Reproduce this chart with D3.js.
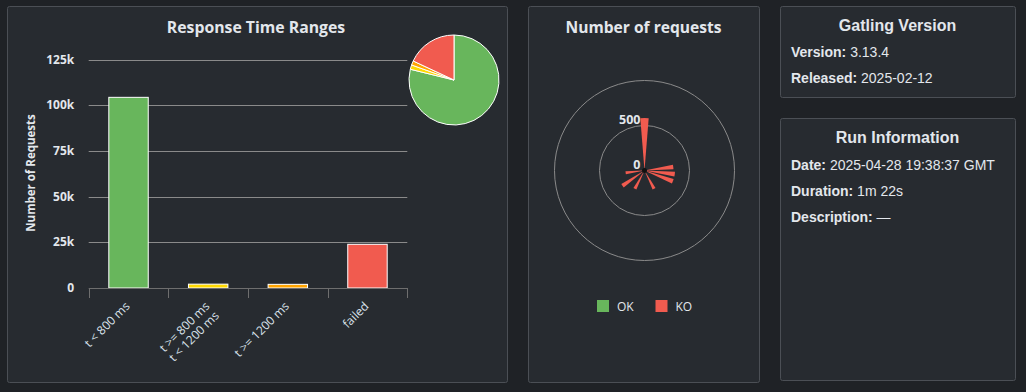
<!DOCTYPE html>
<html>
<head>
<meta charset="utf-8">
<script src="https://cdn.jsdelivr.net/npm/d3@7"></script>
<style>
html, body { margin: 0; padding: 0; background: #1f2226; }
svg { display: block; }
</style>
</head>
<body>
<svg id="chart" width="1026" height="392"></svg>
<script>
// ---------------- DATA ----------------
const rangeCategories = ["t < 800 ms", "t >= 800 ms\nt < 1200 ms", "t >= 1200 ms", "failed"];
const rangeCounts = [104300, 2100, 2000, 23900];
const yTickValues = [0, 25000, 50000, 75000, 100000, 125000];
const yTickLabels = ["0", "25k", "50k", "75k", "100k", "125k"];

const requestNames = d3.range(1, 27).map(i => "request_" + String(i).padStart(2, "0"));
const okCounts = [0,0,0,0,0,0,0,0,0,0,0,0,0,0,0,0,0,0,0,0,0,0,0,0,0,0];
const koCounts = [583,0,0,0,0,0,322,339,337,0,0,229,0,0,0,230,0,298,0,211,0,0,0,0,0,0];
const radialTickValues = [0, 500];
const radialGridValues = [500, 1000];
const legendLabels = ["OK", "KO"];

const versionRows = [["Version:", "3.13.4"], ["Released:", "2025-02-12"]];
const runRows = [["Date:", "2025-04-28 19:38:37 GMT"], ["Duration:", "1m 22s"], ["Description:", "\u2014"]];

// ---------------- STYLE ----------------
const C = {
  panel: "#272b30", border: "#4b4f55", text: "#e3e7ec", grid: "#8a8a8a", axis: "#6e6e6e",
  green: "#68b65c", yellow: "#ffd900", orange: "#ffa400", red: "#f15b4f"
};
const rangeColors = [C.green, C.yellow, C.orange, C.red];
const HC = "'Open Sans', 'Noto Sans', sans-serif";
const AR = "'Liberation Sans', Arial, sans-serif";

const svg = d3.select("#chart");

function panel(x, y, w, h) {
  svg.append("rect").attr("x", x + 0.5).attr("y", y + 0.5).attr("width", w).attr("height", h)
    .attr("rx", 2).attr("fill", C.panel).attr("stroke", C.border);
}
panel(7, 6, 500, 376);
panel(528, 6, 231, 376);
panel(780, 6, 235, 91);
panel(780, 118, 235, 262);

// ---------------- BAR CHART ----------------
const plot = { left: 88.7, right: 407.3, top: 59.5, bottom: 288 };
const x = d3.scaleBand().domain(rangeCategories).range([plot.left, plot.right]).padding(0);
const y = d3.scaleLinear().domain([0, 125000]).range([plot.bottom, plot.top]);

svg.append("text").attr("x", 256).attr("y", 33).attr("text-anchor", "middle")
  .attr("font-family", HC).attr("font-weight", "bold").attr("font-size", 15.8).attr("fill", C.text)
  .text("Response Time Ranges");

const g = svg.append("g");
// grid
g.selectAll("line.grid").data(yTickValues.filter(v => v > 0)).join("line")
  .attr("x1", plot.left).attr("x2", plot.right)
  .attr("y1", d => Math.round(y(d)) + 0.5).attr("y2", d => Math.round(y(d)) + 0.5)
  .attr("stroke", C.grid).attr("stroke-width", 1);
// y labels
g.selectAll("text.ytick").data(yTickValues).join("text")
  .attr("x", plot.left - 14.5).attr("y", d => y(d) + 4).attr("text-anchor", "end")
  .attr("font-family", HC).attr("font-weight", "bold").attr("font-size", 12).attr("fill", C.text)
  .text((d, i) => yTickLabels[i]);
// y title
svg.append("text").attr("transform", "translate(35,173) rotate(-90)").attr("text-anchor", "middle")
  .attr("font-family", HC).attr("font-weight", "bold").attr("font-size", 11.5).attr("fill", C.text)
  .text("Number of Requests");
// bars
const barW = x.bandwidth() * 0.495;
g.selectAll("rect.bar").data(rangeCounts).join("rect")
  .attr("x", (d, i) => x(rangeCategories[i]) + x.bandwidth() / 2 - barW / 2)
  .attr("y", d => y(d)).attr("width", barW).attr("height", d => plot.bottom - y(d))
  .attr("fill", (d, i) => rangeColors[i]).attr("stroke", "#ffffff").attr("stroke-width", 1);
// x axis
g.append("line").attr("x1", plot.left).attr("x2", plot.right).attr("y1", plot.bottom + 0.5).attr("y2", plot.bottom + 0.5)
  .attr("stroke", C.axis);
const tickXs = rangeCategories.map(c => x(c)).concat([plot.right]);
g.selectAll("line.xtick").data(tickXs).join("line")
  .attr("x1", d => Math.round(d) + 0.5).attr("x2", d => Math.round(d) + 0.5)
  .attr("y1", plot.bottom).attr("y2", plot.bottom + 10).attr("stroke", C.axis);
// x labels
rangeCategories.forEach(c => {
  const cx = x(c) + x.bandwidth() / 2;
  const t = g.append("text").attr("transform", `translate(${cx + 2},${plot.bottom + 19}) rotate(-45)`)
    .attr("text-anchor", "end").attr("font-family", HC).attr("font-size", 12).attr("fill", "#dbe3ec");
  c.split("\n").forEach((line, li) => {
    t.append("tspan").attr("x", 0).attr("dy", li === 0 ? 0 : 13.5).text(line);
  });
});

// pie
const pie = d3.pie().sort(null).value(d => d);
const pieArc = d3.arc().innerRadius(0).outerRadius(45);
const pg = svg.append("g").attr("transform", "translate(454,80)");
pg.selectAll("path").data(pie(rangeCounts)).join("path")
  .attr("d", pieArc).attr("fill", (d, i) => rangeColors[i])
  .attr("stroke", "#ffffff").attr("stroke-width", 1).attr("stroke-linejoin", "round");

// ---------------- POLAR CHART ----------------
svg.append("text").attr("x", 643.5).attr("y", 33).attr("text-anchor", "middle")
  .attr("font-family", HC).attr("font-weight", "bold").attr("font-size", 15.6).attr("fill", C.text)
  .text("Number of requests");

const pc = { x: 644.5, y: 170.5 };
const slot = 2 * Math.PI / requestNames.length;
const ang = d3.scaleBand().domain(requestNames).range([-slot / 2, 2 * Math.PI - slot / 2]).paddingInner(0.34).paddingOuter(0.17);
const rad = d3.scaleLinear().domain([0, 1000]).range([0, 90]);
const polar = svg.append("g").attr("transform", `translate(${pc.x},${pc.y})`);
polar.selectAll("circle.grid").data(radialGridValues).join("circle")
  .attr("r", d => rad(d)).attr("fill", "none").attr("stroke", C.grid).attr("stroke-width", 1);

const stacked = requestNames.map((n, i) => ({ name: n, ok: okCounts[i], ko: koCounts[i] }));
const wedge = d3.arc();
polar.selectAll("path.ok").data(stacked.filter(d => d.ok > 0)).join("path")
  .attr("d", d => wedge({ innerRadius: 0, outerRadius: rad(d.ok), startAngle: ang(d.name), endAngle: ang(d.name) + ang.bandwidth() }))
  .attr("fill", C.green);
polar.selectAll("path.ko").data(stacked.filter(d => d.ko > 0)).join("path")
  .attr("d", d => wedge({ innerRadius: rad(d.ok), outerRadius: rad(d.ok + d.ko), startAngle: ang(d.name), endAngle: ang(d.name) + ang.bandwidth() }))
  .attr("fill", C.red);
polar.append("circle").attr("r", 2.5).attr("fill", "#111");
polar.selectAll("text.rt").data(radialTickValues).join("text")
  .attr("x", -4).attr("y", d => -rad(d) - 1.5).attr("text-anchor", "end")
  .attr("font-family", HC).attr("font-weight", "bold").attr("font-size", 12.5).attr("fill", C.text)
  .text(d => d);

// legend
const legendColors = [C.green, C.red];
const lg = svg.append("g");
legendLabels.forEach((l, i) => {
  const lx = 597 + i * 58.5;
  lg.append("rect").attr("x", lx).attr("y", 300).attr("width", 12).attr("height", 12).attr("fill", legendColors[i]);
  lg.append("text").attr("x", lx + 20).attr("y", 311).attr("font-family", HC).attr("font-size", 12)
    .attr("fill", C.text).text(l);
});

// ---------------- INFO PANELS ----------------
function infoPanel(title, titleY, rows, firstY) {
  svg.append("text").attr("x", 897.5).attr("y", titleY).attr("text-anchor", "middle")
    .attr("font-family", AR).attr("font-weight", "bold").attr("font-size", 16).attr("fill", C.text).text(title);
  rows.forEach((r, i) => {
    const t = svg.append("text").attr("x", 791).attr("y", firstY + i * 26)
      .attr("font-family", AR).attr("font-size", 14).attr("fill", C.text);
    t.append("tspan").attr("font-weight", "bold").text(r[0]);
    t.append("tspan").text(" " + r[1]);
  });
}
infoPanel("Gatling Version", 31, versionRows, 57);
infoPanel("Run Information", 143, runRows, 170);
</script>
</body>
</html>
